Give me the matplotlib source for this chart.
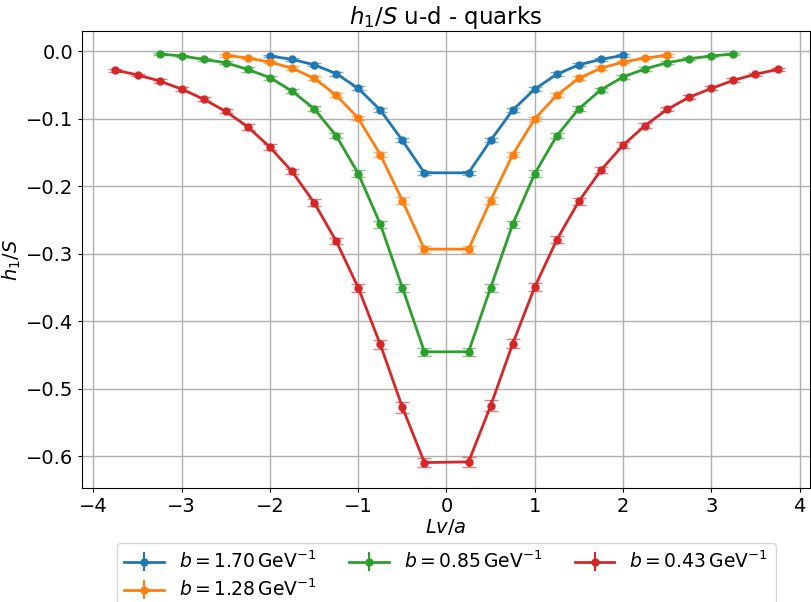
import matplotlib
matplotlib.use("Agg")
import matplotlib.pyplot as plt

# transverse separations Lv/a for each b value (no point at Lv = 0)
x_b170 = [-2.0, -1.75, -1.5, -1.25, -1.0, -0.75, -0.5, -0.25,
          0.25, 0.5, 0.75, 1.0, 1.25, 1.5, 1.75, 2.0]
x_b128 = [-2.5, -2.25, -2.0, -1.75, -1.5, -1.25, -1.0, -0.75, -0.5, -0.25,
          0.25, 0.5, 0.75, 1.0, 1.25, 1.5, 1.75, 2.0, 2.25, 2.5]
x_b085 = [-3.25, -3.0, -2.75, -2.5, -2.25, -2.0, -1.75, -1.5, -1.25, -1.0, -0.75, -0.5, -0.25,
          0.25, 0.5, 0.75, 1.0, 1.25, 1.5, 1.75, 2.0, 2.25, 2.5, 2.75, 3.0, 3.25]
x_b043 = [-3.75, -3.5, -3.25, -3.0, -2.75, -2.5, -2.25, -2.0, -1.75, -1.5, -1.25, -1.0, -0.75, -0.5, -0.25,
          0.25, 0.5, 0.75, 1.0, 1.25, 1.5, 1.75, 2.0, 2.25, 2.5, 2.75, 3.0, 3.25, 3.5, 3.75]

y_b170 = [-0.007, -0.012, -0.020, -0.033, -0.055, -0.087, -0.132, -0.180,
          -0.180, -0.132, -0.087, -0.056, -0.034, -0.020, -0.012, -0.006]
y_b128 = [-0.006, -0.010, -0.016, -0.025, -0.040, -0.065, -0.099, -0.153, -0.221, -0.293,
          -0.293, -0.221, -0.153, -0.100, -0.065, -0.040, -0.025, -0.016, -0.010, -0.006]
y_b085 = [-0.004, -0.007, -0.012, -0.017, -0.027, -0.039, -0.059, -0.085, -0.125, -0.181, -0.256, -0.350, -0.445,
          -0.445, -0.350, -0.256, -0.181, -0.125, -0.085, -0.057, -0.038, -0.026, -0.017, -0.011, -0.007, -0.004]
y_b043 = [-0.028, -0.035, -0.044, -0.056, -0.071, -0.089, -0.112, -0.142, -0.178, -0.224, -0.281, -0.350, -0.434, -0.527, -0.609,
          -0.608, -0.525, -0.433, -0.349, -0.279, -0.222, -0.176, -0.139, -0.110, -0.086, -0.068, -0.055, -0.043, -0.034, -0.027]

# statistical errors
e_b170 = [0.002, 0.002, 0.002, 0.003, 0.003, 0.003, 0.003, 0.003,
          0.003, 0.003, 0.003, 0.003, 0.003, 0.002, 0.002, 0.002]
e_b128 = [0.002, 0.002, 0.002, 0.003, 0.003, 0.003, 0.003, 0.004, 0.005, 0.005,
          0.005, 0.005, 0.004, 0.003, 0.003, 0.003, 0.003, 0.002, 0.002, 0.002]
e_b085 = [0.002, 0.002, 0.002, 0.002, 0.003, 0.003, 0.003, 0.004, 0.004, 0.005, 0.005, 0.006, 0.006,
          0.006, 0.006, 0.005, 0.005, 0.004, 0.004, 0.003, 0.003, 0.003, 0.002, 0.002, 0.002, 0.002]
e_b043 = [0.002, 0.002, 0.003, 0.003, 0.003, 0.003, 0.004, 0.004, 0.004, 0.005, 0.005, 0.006, 0.007, 0.008, 0.007,
          0.007, 0.008, 0.007, 0.006, 0.005, 0.005, 0.004, 0.004, 0.004, 0.003, 0.003, 0.003, 0.003, 0.002, 0.002]

labels = [r"$b = 1.70\,\mathrm{GeV}^{-1}$", r"$b = 1.28\,\mathrm{GeV}^{-1}$",
          r"$b = 0.85\,\mathrm{GeV}^{-1}$", r"$b = 0.43\,\mathrm{GeV}^{-1}$"]
colors = ["#1f77b4", "#ff7f0e", "#2ca02c", "#d62728"]

fig = plt.figure(figsize=(8.11, 6.02), dpi=100)
ax = fig.add_axes([0.101, 0.189, 0.898, 0.7595])

series = [(x_b170, y_b170, e_b170), (x_b128, y_b128, e_b128),
          (x_b085, y_b085, e_b085), (x_b043, y_b043, e_b043)]
handles = []
for (xs, ys, es), lab, c in zip(series, labels, colors):
    cont = ax.errorbar(xs, ys, yerr=es, fmt="o-", color=c, ms=5, lw=2,
                       elinewidth=1.5, capsize=5)
    for cap in cont[1]:
        cap.set_alpha(0.6)
    # legend entry without caps
    handles.append(ax.errorbar([], [], yerr=[], fmt="o-", color=c, ms=5, lw=2,
                               elinewidth=1.5, label=lab))

ax.set_xlim(-4.13, 4.12)
ax.set_ylim(-0.647, 0.030)
ax.grid(True, color="#b0b0b0", lw=1)
ax.tick_params(labelsize=14, length=3, pad=3)
ax.set_xlabel(r"$Lv/a$", fontsize=14, labelpad=1)
ax.set_ylabel(r"$h_1/S$", fontsize=14, labelpad=2)
ax.set_title(r"$h_1/S$ u-d - quarks", fontsize=16.5, pad=4)
ax.legend(handles=handles, loc="upper left", bbox_to_anchor=(0.035, -0.1), ncol=3,
          fontsize=13.5, columnspacing=1.75, handlelength=2.1, labelspacing=0.35)

fig.savefig("out.png", dpi=100)
